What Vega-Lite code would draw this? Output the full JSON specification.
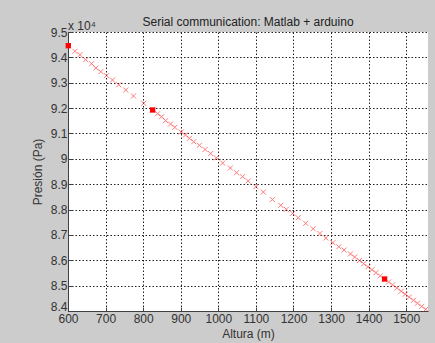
{
  "$schema": "https://vega.github.io/schema/vega-lite/v6.json",
  "width": 360,
  "height": 279,
  "autosize": {"type": "none"},
  "padding": {"left": 68, "top": 32, "right": 7, "bottom": 32},
  "background": "#cccccc",
  "title": {"text": "Serial communication: Matlab + arduino", "anchor": "middle", "font": "Liberation Sans", "fontSize": 12, "fontWeight": "normal", "color": "#222222", "offset": -9},
  "config": {
    "view": {"fill": "white", "stroke": null},
    "axis": {
      "labelFont": "Liberation Sans", "labelFontSize": 12, "labelColor": "#333333", "labelFlush": false,
      "titleFont": "Liberation Sans", "titleFontSize": 12, "titleFontWeight": "normal", "titleColor": "#333333",
      "grid": true, "gridColor": "#222222", "gridDash": [1.5, 2], "gridOpacity": 1, "gridWidth": 1,
      "domainColor": "#404040", "tickColor": "#404040", "tickSize": -4
    }
  },
  "datasets": {
    "medidas": [
    {"altura": 600.8, "presion": 94460, "tipo": "punto"},
    {"altura": 618.5, "presion": 94239, "tipo": "x"},
    {"altura": 631.8, "presion": 94105, "tipo": "x"},
    {"altura": 646.9, "presion": 93908, "tipo": "x"},
    {"altura": 662.8, "presion": 93750, "tipo": "x"},
    {"altura": 674.2, "presion": 93580, "tipo": "x"},
    {"altura": 687.4, "presion": 93435, "tipo": "x"},
    {"altura": 702.5, "presion": 93277, "tipo": "x"},
    {"altura": 718.4, "presion": 93107, "tipo": "x"},
    {"altura": 735.1, "presion": 92922, "tipo": "x"},
    {"altura": 753.7, "presion": 92713, "tipo": "x"},
    {"altura": 774.1, "presion": 92476, "tipo": "x"},
    {"altura": 801.4, "presion": 92189, "tipo": "x"},
    {"altura": 825.2, "presion": 91925, "tipo": "punto"},
    {"altura": 838.5, "presion": 91779, "tipo": "x"},
    {"altura": 849.1, "presion": 91660, "tipo": "x"},
    {"altura": 859.7, "presion": 91503, "tipo": "x"},
    {"altura": 872.9, "presion": 91372, "tipo": "x"},
    {"altura": 884.3, "presion": 91242, "tipo": "x"},
    {"altura": 901.3, "presion": 91057, "tipo": "x"},
    {"altura": 912.6, "presion": 90939, "tipo": "x"},
    {"altura": 923.2, "presion": 90809, "tipo": "x"},
    {"altura": 934.6, "presion": 90675, "tipo": "x"},
    {"altura": 949.7, "presion": 90533, "tipo": "x"},
    {"altura": 964.8, "presion": 90367, "tipo": "x"},
    {"altura": 979.7, "presion": 90209, "tipo": "x"},
    {"altura": 994.8, "presion": 90040, "tipo": "x"},
    {"altura": 1011.5, "presion": 89835, "tipo": "x"},
    {"altura": 1031.9, "presion": 89638, "tipo": "x"},
    {"altura": 1048.6, "presion": 89452, "tipo": "x"},
    {"altura": 1064.5, "presion": 89295, "tipo": "x"},
    {"altura": 1079.6, "presion": 89125, "tipo": "x"},
    {"altura": 1100.0, "presion": 88900, "tipo": "x"},
    {"altura": 1119.8, "presion": 88691, "tipo": "x"},
    {"altura": 1143.9, "presion": 88395, "tipo": "x"},
    {"altura": 1166.2, "presion": 88167, "tipo": "x"},
    {"altura": 1181.0, "presion": 88009, "tipo": "x"},
    {"altura": 1198.0, "presion": 87851, "tipo": "x"},
    {"altura": 1212.6, "presion": 87678, "tipo": "x"},
    {"altura": 1232.4, "presion": 87457, "tipo": "x"},
    {"altura": 1252.3, "presion": 87244, "tipo": "x"},
    {"altura": 1270.3, "presion": 87055, "tipo": "x"},
    {"altura": 1286.2, "presion": 86877, "tipo": "x"},
    {"altura": 1304.8, "presion": 86692, "tipo": "x"},
    {"altura": 1320.7, "presion": 86534, "tipo": "x"},
    {"altura": 1334.7, "presion": 86404, "tipo": "x"},
    {"altura": 1351.7, "presion": 86251, "tipo": "x"},
    {"altura": 1363.0, "presion": 86128, "tipo": "x"},
    {"altura": 1375.5, "presion": 85991, "tipo": "x"},
    {"altura": 1386.9, "presion": 85867, "tipo": "x"},
    {"altura": 1398.3, "presion": 85743, "tipo": "x"},
    {"altura": 1408.9, "presion": 85627, "tipo": "x"},
    {"altura": 1419.5, "presion": 85512, "tipo": "x"},
    {"altura": 1431.1, "presion": 85385, "tipo": "x"},
    {"altura": 1442.5, "presion": 85261, "tipo": "punto"},
    {"altura": 1453.1, "presion": 85145, "tipo": "x"},
    {"altura": 1463.7, "presion": 85030, "tipo": "x"},
    {"altura": 1475.1, "presion": 84906, "tipo": "x"},
    {"altura": 1486.8, "presion": 84778, "tipo": "x"},
    {"altura": 1497.4, "presion": 84663, "tipo": "x"},
    {"altura": 1508.0, "presion": 84547, "tipo": "x"},
    {"altura": 1519.4, "presion": 84423, "tipo": "x"},
    {"altura": 1530.0, "presion": 84307, "tipo": "x"},
    {"altura": 1541.4, "presion": 84183, "tipo": "x"},
    {"altura": 1552.0, "presion": 84068, "tipo": "x"}
    ],
    "exponente": [{"altura": 600, "presion": 95000, "etiqueta": "x 10⁴"}]
  },
  "encoding": {
    "x": {"field": "altura", "type": "quantitative", "title": "Altura (m)",
      "scale": {"domain": [600, 1558], "nice": false, "zero": false},
      "axis": {"values": [600, 700, 800, 900, 1000, 1100, 1200, 1300, 1400, 1500], "format": "d", "labelPadding": 6, "titleY": 17, "titleBaseline": "top"}},
    "y": {"field": "presion", "type": "quantitative", "title": "Presión (Pa)",
      "scale": {"domain": [84000, 95000], "nice": false, "zero": false},
      "axis": {"values": [84000, 85000, 86000, 87000, 88000, 89000, 90000, 91000, 92000, 93000, 94000, 95000],
        "labelExpr": "format(datum.value / 10000, '.1~f')", "labelPadding": 5,
        "labelOffset": {"condition": {"test": "datum.value == 84000", "value": -5}, "value": 0},
        "titleX": -31, "titleY": 139.5, "titleBaseline": "middle"}}
  },
  "layer": [
    {
      "data": {"name": "medidas"},
      "mark": {"type": "point", "shape": "M-1,-1L1,1M-1,1L1,-1", "filled": false, "stroke": "#ff2020", "strokeWidth": 1, "opacity": 0.6, "size": 25, "clip": false}
    },
    {
      "data": {"name": "medidas"},
      "transform": [{"filter": "datum.tipo === 'punto'"}],
      "mark": {"type": "square", "color": "#ff0000", "opacity": 1, "size": 28, "clip": false}
    },
    {
      "data": {"name": "exponente"},
      "mark": {"type": "text", "align": "left", "baseline": "bottom", "dy": 1, "font": "Liberation Sans", "fontSize": 12, "fill": "#333333", "clip": false},
      "encoding": {
        "text": {"field": "etiqueta", "type": "nominal"}
      }
    }
  ]
}
